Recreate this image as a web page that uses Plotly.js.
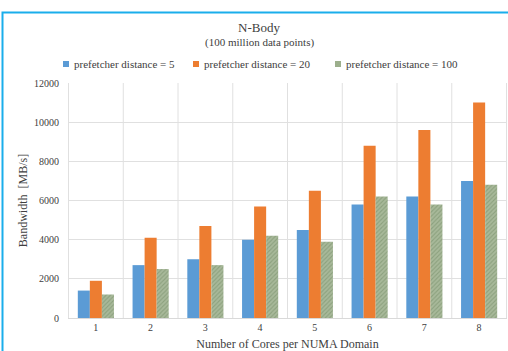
<!DOCTYPE html>
<html>
<head>
<meta charset="utf-8">
<script src="https://cdn.plot.ly/plotly-3.0.1.min.js"></script>
<style>html,body{margin:0;padding:0;background:#fff;}#chart{width:508px;height:351px;}</style>
</head>
<body>
<div id="chart"></div>
<script>
const categories = ['1','2','3','4','5','6','7','8'];
const dist5 = [1400, 2700, 3000, 4000, 4500, 5800, 6200, 7000];
const dist20 = [1900, 4100, 4700, 5700, 6500, 8800, 9600, 11000];
const dist100 = [1200, 2500, 2700, 4200, 3900, 6200, 5800, 6800];
const seriesNames = ['prefetcher distance = 5', 'prefetcher distance = 20', 'prefetcher distance = 100'];
const seriesColors = ['#5B9BD5', '#ED7D31', '#9CAF8C'];
const yTicks = [0, 2000, 4000, 6000, 8000, 10000, 12000];

const serif = 'Liberation Serif';
const W = 508, H = 351, L = 68, R = 1, T = 83, B = 33;
const pw = W - L - R, ph = H - T - B;
const px = x => (x - L) / pw;
const py = y => (H - B - y) / ph;

const data = [
  {type:'bar', x:categories, y:dist5, name:seriesNames[0], marker:{color:seriesColors[0]}},
  {type:'bar', x:categories, y:dist20, name:seriesNames[1], marker:{color:seriesColors[1]}},
  {type:'bar', x:categories, y:dist100, name:seriesNames[2],
   marker:{color:'#A6B897', pattern:{shape:'/', fgcolor:'#8CA17E', bgcolor:'#A8B99A', size:3, solidity:0.35}}}
];
const layout = {
  width:W, height:H,
  margin:{l:L, r:R, t:T, b:B},
  paper_bgcolor:'#fff', plot_bgcolor:'#fff',
  font:{family:serif, color:'#404040', size:10},
  barmode:'group', bargap:0.34, bargroupgap:0,
  showlegend:false,
  xaxis:{type:'category', showgrid:false, ticks:'', tickfont:{family:serif, size:10, color:'#404040'},
         showline:true, linecolor:'#D9D9D9', linewidth:1,
         title:{text:'Number of Cores per NUMA Domain', font:{family:serif, size:12, color:'#404040'}, standoff:8}},
  yaxis:{range:[0,12000], tickvals:yTicks, ticktext:yTicks.map(String), showgrid:true, gridcolor:'#E0E0E0', gridwidth:1,
         zeroline:false, ticks:'', tickfont:{family:serif, size:10, color:'#404040'}, ticklabelstandoff:8,
         title:{text:'Bandwidth  [MB/s]', font:{family:serif, size:12, color:'#404040'}, standoff:3}},
  annotations:[
    {text:'N-Body', xref:'paper', yref:'paper', x:px(259), y:py(27), showarrow:false, yanchor:'middle',
     font:{family:serif, size:13, color:'#404040'}},
    {text:'(100 million data points)', xref:'paper', yref:'paper', x:px(259), y:py(43), showarrow:false, yanchor:'middle',
     font:{family:serif, size:11, color:'#404040'}}
  ],
  shapes:[
    {type:'rect', xref:'paper', yref:'paper', x0:px(2.5), x1:1.1, y0:-0.3, y1:py(12.5),
     line:{color:'#1AAEEB', width:2}, fillcolor:'rgba(0,0,0,0)', layer:'below'}
  ]
};
// manual legend
const legX = [63, 193, 335];
seriesNames.forEach((n, i) => {
  layout.shapes.push({type:'rect', xref:'paper', yref:'paper', x0:px(legX[i]), x1:px(legX[i]+6), y0:py(67), y1:py(61),
    fillcolor:seriesColors[i], line:{width:0}});
  layout.annotations.push({text:n, xref:'paper', yref:'paper', x:px(legX[i]+9), y:py(64), xanchor:'left', yanchor:'middle',
    showarrow:false, font:{family:serif, size:11, color:'#404040'}});
});
for (let i = 0; i <= categories.length; i++) {
  layout.shapes.push({type:'line', xref:'x', yref:'paper', x0:i-0.5, x1:i-0.5, y0:0, y1:1,
    line:{color:'#E0E0E0', width:1}, layer:'below'});
}
Plotly.newPlot('chart', data, layout, {displayModeBar:false, staticPlot:true});
</script>
</body>
</html>
